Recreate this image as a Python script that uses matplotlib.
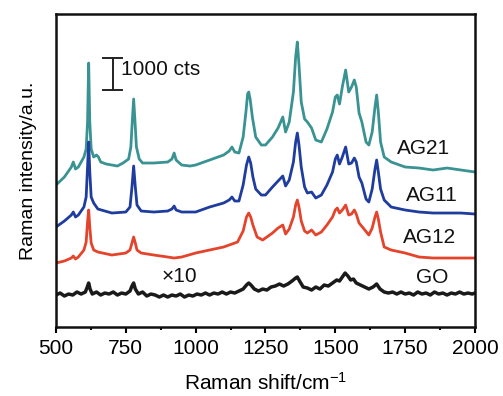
import matplotlib
matplotlib.use("Agg")
import matplotlib.pyplot as plt

plt.rcParams['font.family'] = ['Liberation Sans', 'DejaVu Sans']
plt.rcParams['mathtext.fontset'] = 'custom'
plt.rcParams['mathtext.rm'] = 'Liberation Sans'
plt.rcParams['mathtext.it'] = 'Liberation Sans'

ag21_x = [500, 530, 555, 562, 570, 580, 600, 608, 613, 617, 621, 626, 635, 645, 652, 660,
          680, 700, 720, 740, 760, 768, 773, 778, 783, 788, 798, 810, 850, 900,
          915, 923, 930, 950, 980, 1000, 1050, 1100, 1120, 1130, 1140, 1155, 1170, 1180,
          1186, 1190, 1195, 1203, 1215, 1235, 1250, 1275, 1295, 1312, 1322, 1335, 1350, 1358,
          1364, 1370, 1378, 1390, 1400, 1415, 1430, 1450, 1470, 1490, 1500, 1507, 1515, 1525,
          1537, 1548, 1558, 1568, 1575, 1585, 1595, 1610, 1620, 1632, 1642, 1648, 1654, 1662,
          1675, 1700, 1750, 1800, 1850, 1900, 1950, 2000]
ag21_y = [142, 150, 160, 165, 158, 160, 170, 178, 205, 264, 205, 178, 170, 172, 170, 165,
          163, 162, 161, 164, 168, 180, 205, 228, 205, 180, 168, 164, 164, 165,
          168, 174, 167, 162, 161, 162, 167, 172, 176, 180, 175, 174, 190, 215,
          233, 235, 228, 210, 190, 182, 182, 190, 199, 210, 195, 205, 235, 270,
          285, 262, 225, 208, 205, 199, 187, 185, 198, 215, 230, 232, 223, 240,
          257, 235, 240, 247, 240, 214, 205, 185, 182, 195, 220, 232, 215, 185,
          170, 165, 160, 159, 157, 159, 157, 155]

ag11_x = [500, 530, 555, 562, 570, 580, 600, 608, 613, 617, 621, 626, 635, 650, 700, 750,
          765, 772, 778, 784, 790, 805, 850, 900, 915, 923, 930, 950, 1000, 1050,
          1100, 1120, 1130, 1140, 1155, 1170, 1182, 1190, 1197, 1205, 1215, 1235, 1250, 1275,
          1295, 1312, 1322, 1335, 1350, 1358, 1364, 1370, 1378, 1390, 1400, 1415, 1430, 1450,
          1470, 1490, 1500, 1507, 1515, 1525, 1537, 1548, 1558, 1568, 1575, 1585, 1595, 1610,
          1620, 1632, 1642, 1648, 1654, 1662, 1675, 1700, 1750, 1800, 1850, 1900, 1950, 2000]
ag11_y = [100, 106, 112, 115, 110, 112, 120, 130, 160, 185, 155, 130, 124, 118, 114, 115,
          120, 140, 161, 140, 122, 116, 115, 116, 118, 121, 117, 115, 115, 120,
          124, 127, 130, 126, 126, 142, 162, 170, 164, 150, 138, 132, 132, 140,
          146, 151, 141, 147, 165, 185, 194, 182, 160, 140, 134, 135, 129, 132,
          142, 155, 168, 172, 163, 170, 180, 163, 164, 169, 165, 150, 144, 128,
          125, 138, 158, 167, 155, 138, 127, 120, 117, 115, 114, 114, 114, 113]

ag12_x = [500, 530, 555, 562, 570, 580, 600, 608, 613, 617, 621, 626, 635, 650, 700, 750,
          765, 772, 778, 784, 790, 805, 850, 900, 923, 950, 1000, 1050, 1100, 1150,
          1170, 1182, 1190, 1197, 1205, 1220, 1240, 1250, 1275, 1295, 1312, 1322, 1335, 1350,
          1358, 1364, 1370, 1378, 1390, 1400, 1415, 1430, 1450, 1470, 1490, 1500, 1507, 1515,
          1525, 1537, 1548, 1558, 1568, 1575, 1585, 1600, 1620, 1632, 1642, 1648, 1654, 1662,
          1675, 1700, 1750, 1800, 1850, 1900, 1950, 2000]
ag12_y = [64, 66, 69, 71, 68, 70, 77, 85, 105, 117, 100, 84, 77, 75, 72, 74,
          77, 84, 90, 84, 77, 74, 72, 70, 69, 70, 74, 77, 80, 85,
          96, 110, 114, 110, 102, 90, 87, 89, 94, 99, 102, 93, 98, 110,
          122, 127, 120, 106, 96, 94, 97, 92, 95, 102, 110, 117, 119, 114,
          117, 122, 112, 113, 117, 113, 104, 99, 92, 99, 110, 115, 108, 95,
          80, 77, 74, 70, 69, 69, 69, 69]

go_x = [500, 515, 530, 545, 560, 575, 590, 605, 612, 617, 622, 630, 645, 660, 675, 690,
        705, 720, 735, 750, 765, 772, 778, 784, 795, 810, 825, 840, 855, 870,
        885, 900, 915, 930, 945, 960, 975, 990, 1005, 1020, 1035, 1050, 1065, 1080,
        1095, 1110, 1125, 1140, 1155, 1170, 1182, 1190, 1198, 1210, 1225, 1240, 1255, 1270,
        1285, 1300, 1315, 1330, 1345, 1358, 1364, 1372, 1385, 1400, 1415, 1430, 1445, 1460,
        1475, 1490, 1505, 1515, 1525, 1535, 1545, 1555, 1565, 1575, 1590, 1605, 1620, 1635,
        1648, 1660, 1675, 1690, 1705, 1720, 1735, 1750, 1765, 1780, 1795, 1810, 1825, 1840,
        1855, 1870, 1885, 1900, 1915, 1930, 1945, 1960, 1975, 1990, 2000]
go_y = [32, 34, 31, 33, 32, 35, 33, 35, 40, 44, 38, 33, 35, 32, 34, 33,
        35, 32, 34, 33, 36, 41, 44, 38, 33, 35, 31, 33, 32, 30,
        32, 30, 32, 31, 33, 30, 32, 31, 33, 32, 34, 32, 34, 33,
        35, 33, 35, 34, 36, 38, 42, 44, 42, 38, 36, 38, 37, 40,
        41, 43, 41, 43, 46, 49, 50, 46, 40, 39, 37, 40, 38, 42,
        41, 44, 47, 46, 50, 54, 51, 47, 48, 44, 42, 40, 38, 40,
        43, 38, 35, 34, 35, 33, 35, 33, 34, 32, 35, 33, 34, 32,
        35, 33, 34, 32, 34, 33, 35, 33, 34, 33, 34]

series_labels = ["AG21", "AG11", "AG12", "GO"]
colors = ["#3a9393", "#1f3d9e", "#e4442b", "#1a1a1a"]
label_pos_x = [1814, 1846, 1839, 1846]
label_pos_y = [179, 132, 90, 50]

xticks = [500, 750, 1000, 1250, 1500, 1750, 2000]
minor_xticks = [625, 875, 1125, 1375, 1625, 1875]

fig = plt.figure(figsize=(5.03, 3.96), dpi=100)
ax = fig.add_axes([0.1113, 0.1742, 0.8330, 0.7904])

data = [(ag21_x, ag21_y), (ag11_x, ag11_y), (ag12_x, ag12_y), (go_x, go_y)]
lws = [2.0, 2.0, 2.0, 2.5]
for (xs, ys), c, lw in zip(data, colors, lws):
    ax.plot(xs, ys, color=c, lw=lw, solid_joinstyle='round')

for lab, lx, ly in zip(series_labels, label_pos_x, label_pos_y):
    ax.text(lx, ly, lab, fontsize=15, ha='center', va='center', color='#111111')

ax.text(940, 51, "×10", fontsize=15, ha='center', va='center', color='#111111')

# scale bar: 1000 cts
bar_x, bar_y0, bar_len = 703, 237, 32
ax.plot([bar_x, bar_x], [bar_y0, bar_y0 + bar_len], color='#222222', lw=1.4)
ax.plot([bar_x - 34, bar_x + 34], [bar_y0, bar_y0], color='#222222', lw=1.4)
ax.plot([bar_x - 34, bar_x + 34], [bar_y0 + bar_len, bar_y0 + bar_len], color='#222222', lw=1.4)
ax.text(733, 258, "1000 cts", fontsize=15, ha='left', va='center', color='#111111')

ax.set_xlim(500, 2000)
ax.set_ylim(0, 313)
ax.set_xticks(xticks)
ax.set_xticks(minor_xticks, minor=True)
ax.set_yticks([])
ax.tick_params(axis='x', which='major', direction='out', length=4.5, width=1.5, labelsize=15, pad=4)
ax.tick_params(axis='x', which='minor', direction='out', length=2.5, width=1.5)
for s in ax.spines.values():
    s.set_linewidth(1.8)
    s.set_color('#111111')

ax.set_xlabel(r"Raman shift/cm$^{-1}$", fontsize=15, labelpad=10)
ax.set_ylabel("Raman intensity/a.u.", fontsize=14, labelpad=14)

fig.savefig("out.png", dpi=100)
